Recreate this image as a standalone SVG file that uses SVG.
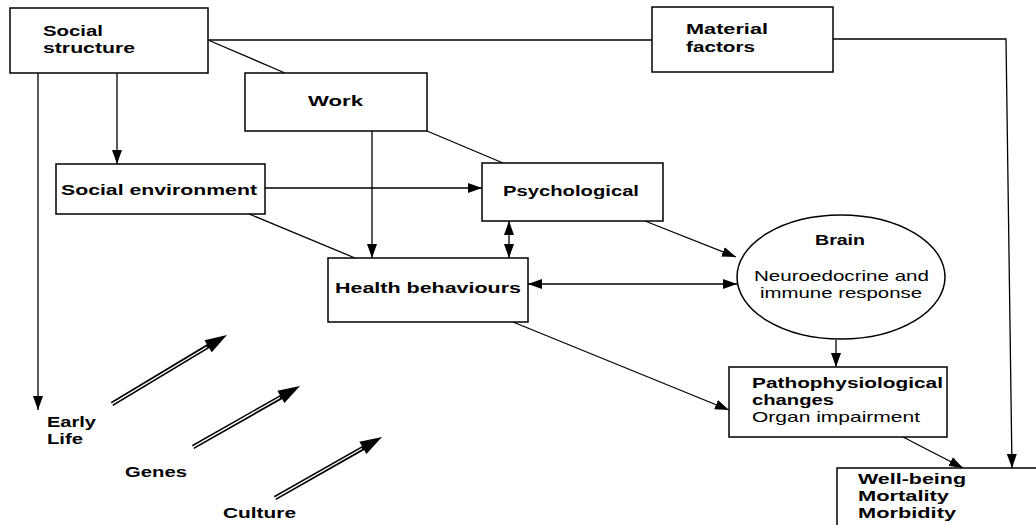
<svg xmlns="http://www.w3.org/2000/svg" width="1036" height="525" viewBox="0 0 1036 525">
<defs>
<style>
.box{fill:#fff;stroke:#000;stroke-width:1.5}
.ln{fill:none;stroke:#000;stroke-width:1.3}
.b{font-family:"Liberation Sans",Arial,sans-serif;font-weight:bold;font-size:15px;fill:#000}
.n{font-family:"Liberation Sans",Arial,sans-serif;font-size:15px;fill:#000}
.dbl{stroke:#000;stroke-width:4.5}
.dblw{stroke:#fff;stroke-width:1.4}
</style>
<marker id="ah" markerWidth="14" markerHeight="10" refX="14" refY="5" orient="auto-start-reverse" markerUnits="userSpaceOnUse">
<path d="M0,0 L14,5 L0,10 Z" fill="#000"/>
</marker>
</defs>
<rect width="1036" height="525" fill="#fff"/>
<g id="connectors">
<line class="ln" x1="208" y1="40" x2="652" y2="40"/>
<line class="ln" x1="208" y1="40" x2="285" y2="73"/>
<polyline class="ln" points="833,39 1006,39 1012,468" marker-end="url(#ah)"/>
<line class="ln" x1="117" y1="73" x2="117" y2="164" marker-end="url(#ah)"/>
<line class="ln" x1="38" y1="73" x2="38" y2="410" marker-end="url(#ah)"/>
<line class="ln" x1="265" y1="188" x2="482" y2="188" marker-end="url(#ah)"/>
<line class="ln" x1="427" y1="131" x2="503" y2="163"/>
<line class="ln" x1="372" y1="131" x2="372" y2="258" marker-end="url(#ah)"/>
<line class="ln" x1="249" y1="214" x2="355" y2="258"/>
<line class="ln" x1="509" y1="221" x2="509" y2="258" marker-start="url(#ah)" marker-end="url(#ah)"/>
<line class="ln" x1="528" y1="284" x2="737" y2="284" marker-start="url(#ah)" marker-end="url(#ah)"/>
<line class="ln" x1="645" y1="221" x2="736" y2="257" marker-end="url(#ah)"/>
<line class="ln" x1="836" y1="340" x2="836" y2="367" marker-end="url(#ah)"/>
<line class="ln" x1="513" y1="322" x2="729" y2="410" marker-end="url(#ah)"/>
<line class="ln" x1="903" y1="437" x2="963" y2="468" marker-end="url(#ah)"/>
<line class="dbl" x1="112" y1="404" x2="210" y2="345"/>
<line class="dblw" x1="111" y1="404.6" x2="207" y2="347"/>
<polygon points="227,335 211.7,352.3 204.5,340.3" fill="#000"/>
<line class="dbl" x1="193" y1="447" x2="283" y2="396"/>
<line class="dblw" x1="192" y1="447.6" x2="280" y2="397.5"/>
<polygon points="300,386 284.4,403 277.4,390.8" fill="#000"/>
<line class="dbl" x1="275" y1="498" x2="365" y2="447"/>
<line class="dblw" x1="274" y1="498.6" x2="362" y2="448.5"/>
<polygon points="382,437 366.4,454 359.4,441.8" fill="#000"/>
</g>
<g id="social-structure">
<rect class="box" x="10" y="8" width="198" height="65"/>
<text class="b" x="43" y="36" textLength="60" lengthAdjust="spacingAndGlyphs">Social</text>
<text class="b" x="43" y="53" textLength="92" lengthAdjust="spacingAndGlyphs">structure</text>
</g>
<g id="material-factors">
<rect class="box" x="652" y="7" width="181" height="65"/>
<text class="b" x="686" y="34" textLength="82" lengthAdjust="spacingAndGlyphs">Material</text>
<text class="b" x="686" y="52" textLength="69" lengthAdjust="spacingAndGlyphs">factors</text>
</g>
<g id="work">
<rect class="box" x="245" y="73" width="182" height="58"/>
<text class="b" x="308" y="106" textLength="55" lengthAdjust="spacingAndGlyphs">Work</text>
</g>
<g id="social-environment">
<rect class="box" x="56" y="164" width="209" height="50"/>
<text class="b" x="61" y="195" textLength="196" lengthAdjust="spacingAndGlyphs">Social environment</text>
</g>
<g id="psychological">
<rect class="box" x="482" y="163" width="181" height="58"/>
<text class="b" x="503" y="196" textLength="136" lengthAdjust="spacingAndGlyphs">Psychological</text>
</g>
<g id="health-behaviours">
<rect class="box" x="328" y="258" width="200" height="64"/>
<text class="b" x="335" y="293" textLength="186" lengthAdjust="spacingAndGlyphs">Health behaviours</text>
</g>
<g id="brain">
<ellipse class="box" cx="841" cy="277" rx="104" ry="62"/>
<text class="b" x="815" y="245" textLength="50" lengthAdjust="spacingAndGlyphs">Brain</text>
<text class="n" x="754" y="281" textLength="175" lengthAdjust="spacingAndGlyphs">Neuroedocrine and</text>
<text class="n" x="760" y="298" textLength="162" lengthAdjust="spacingAndGlyphs">immune response</text>
</g>
<g id="pathophysiological">
<rect class="box" x="729" y="367" width="218" height="70"/>
<text class="b" x="752" y="388" textLength="191" lengthAdjust="spacingAndGlyphs">Pathophysiological</text>
<text class="b" x="752" y="405" textLength="82" lengthAdjust="spacingAndGlyphs">changes</text>
<text class="n" x="752" y="422" textLength="168" lengthAdjust="spacingAndGlyphs">Organ impairment</text>
</g>
<g id="well-being">
<rect class="box" x="837" y="468" width="210" height="70"/>
<text class="b" x="858" y="484" textLength="108" lengthAdjust="spacingAndGlyphs">Well-being</text>
<text class="b" x="858" y="501" textLength="91" lengthAdjust="spacingAndGlyphs">Mortality</text>
<text class="b" x="858" y="518" textLength="98" lengthAdjust="spacingAndGlyphs">Morbidity</text>
</g>
<g id="early-life">
<text class="b" x="47" y="427" textLength="49" lengthAdjust="spacingAndGlyphs">Early</text>
<text class="b" x="47" y="444" textLength="36" lengthAdjust="spacingAndGlyphs">Life</text>
</g>
<g id="genes">
<text class="b" x="125" y="477" textLength="62" lengthAdjust="spacingAndGlyphs">Genes</text>
</g>
<g id="culture">
<text class="b" x="223" y="518" textLength="73" lengthAdjust="spacingAndGlyphs">Culture</text>
</g>
</svg>
